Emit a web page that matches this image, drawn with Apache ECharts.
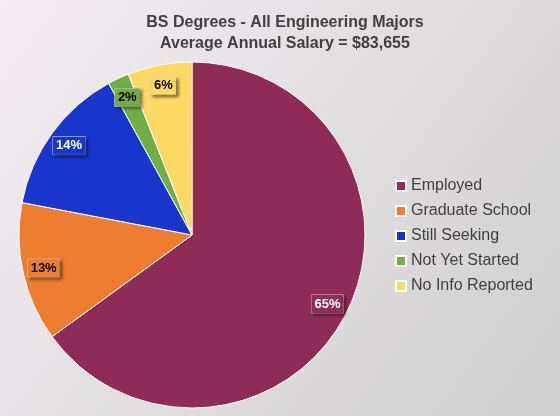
<!DOCTYPE html>
<html><head><meta charset="utf-8">
<script src="https://cdn.jsdelivr.net/npm/echarts@6/dist/echarts.min.js"></script>
<style>html,body{margin:0;padding:0}#c{width:560px;height:416px}</style>
</head><body><div id="c"></div>
<script>
var categories = ['Employed', 'Graduate School', 'Still Seeking', 'Not Yet Started', 'No Info Reported'];
var values = [65, 13, 14, 2, 6];
var colors = ['#8E2B57', '#ED7D31', '#1A35CC', '#70AD47', '#FFD966'];
var labelColors = ['#fff', '#000', '#fff', '#000', '#000'];

var chart = echarts.init(document.getElementById('c'));
var pieData = categories.map(function (n, i) {
  return { name: n, value: values[i], itemStyle: { color: colors[i] } };
});
var labelData = categories.map(function (n, i) {
  return {
    name: n, value: values[i],
    label: { color: labelColors[i], backgroundColor: colors[i] }
  };
});
chart.setOption({
  backgroundColor: new echarts.graphic.LinearGradient(0, 0, 1, 1, [
    { offset: 0, color: '#f4eef2' }, { offset: 1, color: '#cfcfcf' }
  ]),
  title: {
    text: 'BS Degrees - All Engineering Majors\nAverage Annual Salary = $83,655',
    left: 280, textAlign: 'center', top: 7,
    textStyle: { fontFamily: 'Liberation Sans', fontSize: 16, fontWeight: 'bold', color: '#404040', lineHeight: 21 }
  },
  legend: {
    orient: 'vertical', left: 390, top: 173,
    itemWidth: 10, itemHeight: 10, itemGap: 9, icon: 'rect',
    data: categories,
    textStyle: { fontFamily: 'Liberation Sans', fontSize: 16, color: '#404040' }
  },
  series: [{
    type: 'pie', center: [192, 235], radius: [0, 173],
    startAngle: 90, clockwise: true,
    label: { show: false }, labelLine: { show: false },
    itemStyle: { borderColor: '#fff', borderWidth: 1 },
    silent: true,
    data: pieData
  }, {
    type: 'pie', center: [192, 235], radius: [125, 173],
    startAngle: 90, clockwise: true, silent: true,
    itemStyle: { color: 'rgba(0,0,0,0)' },
    labelLine: { show: false },
    label: {
      show: true, position: 'inside', formatter: '{c}%',
      fontFamily: 'Liberation Sans', fontSize: 13, fontWeight: 'bold',
      padding: [3, 3, 2, 3],
      borderColor: '#ddd', borderWidth: 0.5,
      shadowColor: 'rgba(0,0,0,0.5)', shadowBlur: 3, shadowOffsetX: 2, shadowOffsetY: 2
    },
    data: labelData
  }]
});
</script></body></html>
